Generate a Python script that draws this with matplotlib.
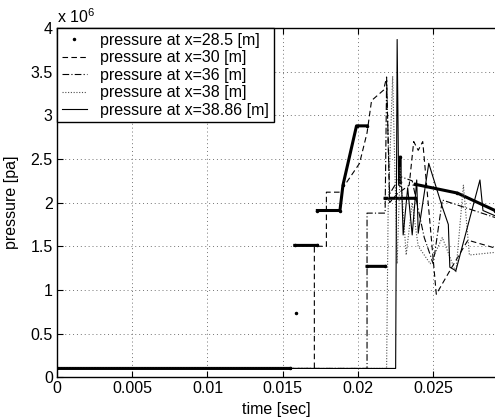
import numpy as np
import matplotlib
matplotlib.use("Agg")
import matplotlib.pyplot as plt
from matplotlib.lines import Line2D

plt.rcParams['font.family'] = ['Liberation Sans', 'DejaVu Sans']
plt.rcParams['mathtext.fontset'] = 'custom'
plt.rcParams['mathtext.rm'] = 'Liberation Sans'

nan = np.nan

# pressure in units of 1e6 pa, time in seconds
# x=28.5 (dot markers, dense -> looks thick), gaps are NaN
t_285 = [0, 0.0155, nan, 0.0159, nan, 0.0158, 0.0173, nan, 0.0173, 0.0188,
         0.0190, 0.0199, 0.0206, nan, 0.0206, 0.0218, nan, 0.0218, 0.0238,
         nan, 0.0228, 0.0228, nan, 0.0238, 0.0266, 0.0291]
p_285 = [0.1, 0.1, nan, 0.74, nan, 1.51, 1.51, nan, 1.91, 1.91,
         2.2, 2.88, 2.88, nan, 1.27, 1.27, nan, 2.05, 2.05,
         nan, 2.52, 2.24, nan, 2.21, 2.11, 1.91]

# x=30 (dashed)
t_30 = [0, 0.0171, 0.0171, 0.0179, 0.0179, 0.0188, 0.0201, 0.0206, 0.0209,
        0.0217, 0.0219, 0.0221, 0.0226, 0.0234, 0.0237, 0.0240, 0.0243,
        0.0252, 0.0262, 0.0273, 0.0291]
p_30 = [0.1, 0.1, 1.5, 1.5, 2.12, 2.12, 2.45, 2.8, 3.17,
        3.29, 3.44, 2.0, 2.1, 2.2, 2.7, 2.6, 2.7,
        0.95, 1.25, 1.57, 1.48]

# x=36 (dash-dot)
t_36 = [0, 0.0206, 0.0206, 0.0218, 0.0219, 0.0221, 0.0228, 0.0236, 0.0244,
        0.0250, 0.0256, 0.0291]
p_36 = [0.1, 0.1, 1.88, 1.88, 3.4, 2.1, 2.3, 2.25, 1.6,
        1.3, 2.03, 1.83]

# x=38 (dotted)
t_38 = [0, 0.0219, 0.0220, 0.0223, 0.0226, 0.0228, 0.0232, 0.0236, 0.0240,
        0.0248, 0.0256, 0.0265, 0.0270, 0.0274, 0.0291]
p_38 = [0.1, 0.1, 1.9, 3.45, 1.3, 2.4, 1.4, 2.0, 1.5,
        1.3, 1.6, 1.2, 2.2, 1.4, 1.43]

# x=38.86 (solid)
t_3886 = [0, 0.0225, 0.0226, 0.0227, 0.0229, 0.0230, 0.0233, 0.0236, 0.0239,
          0.0240, 0.0247, 0.0256, 0.0260, 0.0261, 0.0265, 0.0281, 0.0283, 0.0291]
p_3886 = [0.1, 0.1, 3.87, 2.2, 2.18, 1.63, 2.17, 1.63, 2.26,
          1.65, 2.45, 1.95, 1.75, 1.26, 1.22, 2.26, 1.91, 1.85]

labels = ['pressure at x=28.5 [m]', 'pressure at x=30 [m]',
          'pressure at x=36 [m]', 'pressure at x=38 [m]',
          'pressure at x=38.86 [m]']

fig = plt.figure(figsize=(4.95, 4.2), dpi=100)
ax = fig.add_axes([0.115, 0.102, 0.885, 0.831])

ax.plot(t_285, p_285, color='k', lw=2.2, marker='.', ms=3)
ax.plot(t_30, p_30, color='k', lw=0.8, ls=(0, (5, 3)))
ax.plot(t_36, p_36, color='k', lw=0.8, ls=(0, (6, 2, 1, 2)))
ax.plot(t_38, p_38, color='0.3', lw=0.8, ls=(0, (1, 1.5)))
ax.plot(t_3886, p_3886, color='k', lw=0.8)

ax.set_xlim(0, 0.0291)
ax.set_ylim(0, 4)
ax.set_xticks([0, 0.005, 0.01, 0.015, 0.02, 0.025])
ax.set_xticklabels(['0', '0.005', '0.01', '0.015', '0.02', '0.025'])
ax.set_yticks(np.arange(0, 4.01, 0.5))
ax.set_yticklabels(['0', '0.5', '1', '1.5', '2', '2.5', '3', '3.5', '4'])
ax.tick_params(direction='in', top=True, right=False, labelsize=11.5, length=4, width=0.8, pad=3)
ax.grid(True, color='0.45', ls=(0, (1, 3)), lw=0.7)
ax.spines['right'].set_visible(False)
for s in ['left', 'bottom', 'top']:
    ax.spines[s].set_linewidth(1.0)

ax.set_xlabel('time [sec]', fontsize=11.5, labelpad=4)
ax.set_ylabel('pressure [pa]', fontsize=11.5, labelpad=8)
ax.text(0.0, 1.005, r'x 10$^{6}$', transform=ax.transAxes, fontsize=11.5,
        ha='left', va='bottom')

handles = [
    Line2D([], [], color='k', ls='none', marker='.', ms=3),
    Line2D([], [], color='k', lw=0.8, ls=(0, (5, 3))),
    Line2D([], [], color='k', lw=0.8, ls=(0, (6, 2, 1, 2))),
    Line2D([], [], color='0.3', lw=0.8, ls=(0, (1, 1.5))),
    Line2D([], [], color='k', lw=0.8),
]
leg = ax.legend(handles, labels, loc='upper left', borderaxespad=0, fontsize=11.5,
                frameon=True, fancybox=False, edgecolor='k', framealpha=1,
                handlelength=1.6, handletextpad=0.8, labelspacing=0.15,
                borderpad=0.3)
leg.get_frame().set_linewidth(1.0)

fig.savefig('out.png', dpi=100)
